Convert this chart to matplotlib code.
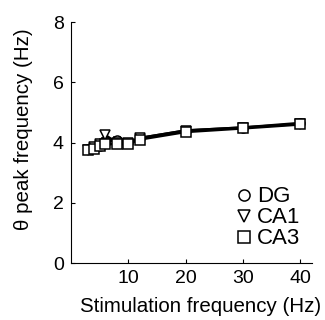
import matplotlib.pyplot as plt
import numpy as np

plt.rcParams["font.family"] = ["Liberation Sans", "DejaVu Sans"]

stim = [3, 4, 5, 6, 8, 10, 12, 20, 30, 40]
dg = [3.80, 3.85, 3.90, 4.00, 4.10, 4.00, 4.15, 4.40, 4.50, 4.65]
ca1 = [3.75, 3.85, 3.95, 4.25, 4.00, 4.00, 4.15, 4.40, 4.50, 4.62]
ca3 = [3.75, 3.80, 3.90, 3.95, 3.95, 3.95, 4.10, 4.35, 4.47, 4.60]
dg_err = [0.08, 0.08, 0.07, 0.08, 0.07, 0.07, 0.06, 0.07, 0.07, 0.08]
ca1_err = [0.08, 0.08, 0.08, 0.10, 0.07, 0.07, 0.06, 0.07, 0.07, 0.08]
ca3_err = [0.07, 0.07, 0.07, 0.08, 0.07, 0.07, 0.06, 0.07, 0.07, 0.08]

fig = plt.figure(figsize=(3.25, 3.2), dpi=100)
ax = fig.add_axes([0.218, 0.178, 0.741, 0.753])

series = [(dg, dg_err, "o", "DG"), (ca1, ca1_err, "v", "CA1"), (ca3, ca3_err, "s", "CA3")]
for vals, err, m, name in series:
    ax.errorbar(stim, vals, yerr=err, color="black", lw=1.8, marker=m, ms=6.5,
                mfc="white", mec="black", mew=1.1, capsize=3, elinewidth=1.1, label=name)

ax.set_xlim(0, 42)
ax.set_ylim(0, 8)
ax.set_xticks([10, 20, 30, 40])
ax.set_yticks([0, 2, 4, 6, 8])
ax.tick_params(direction="in", length=3, labelsize=14, pad=5)
for s in ["top", "right"]:
    ax.spines[s].set_visible(False)

ax.set_xlabel("Stimulation frequency (Hz)", fontsize=14.8)
ax.set_ylabel("θ peak frequency (Hz)", fontsize=14.8)
ax.xaxis.set_label_coords(0.54, -0.14)
ax.yaxis.set_label_coords(-0.157, 0.556)

handles = [plt.Line2D([], [], ls="none", marker=m, ms=8, mfc="white", mec="black", mew=1.1)
           for _, _, m, _ in series]
ax.legend(handles, [s[3] for s in series], loc="lower right", frameon=False, fontsize=16,
          handlelength=0.6, handletextpad=0.3, labelspacing=0.0, borderaxespad=0,
          bbox_to_anchor=(0.99, 0.02))

fig.savefig("out.png", dpi=100)
